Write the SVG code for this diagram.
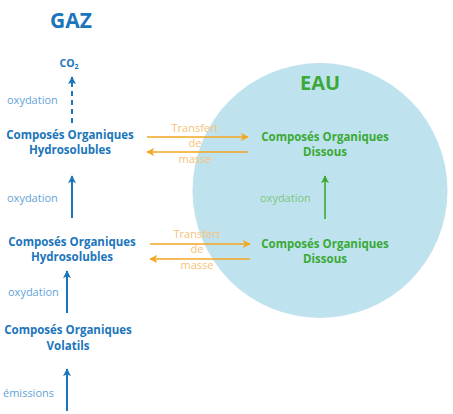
<svg xmlns="http://www.w3.org/2000/svg" width="453" height="414" viewBox="0 0 453 414">
<defs>
<marker id="ab" viewBox="0 0 10 10" refX="9" refY="5" markerWidth="8" markerHeight="8" orient="auto" markerUnits="userSpaceOnUse"><path d="M0,0 L10,5 L0,10 L2.5,5 z" fill="#1b75bc"/></marker>
<marker id="ag" viewBox="0 0 10 10" refX="9" refY="5" markerWidth="8" markerHeight="8" orient="auto" markerUnits="userSpaceOnUse"><path d="M0,0 L10,5 L0,10 L2.5,5 z" fill="#3aa935"/></marker>
<marker id="ao" viewBox="0 0 10 10" refX="9" refY="5" markerWidth="8" markerHeight="8" orient="auto" markerUnits="userSpaceOnUse"><path d="M0,0 L10,5 L0,10 L2.5,5 z" fill="#f5a623"/></marker>
<style>
text{font-family:"Open Sans","Liberation Sans",sans-serif;}
.nb{font-weight:bold;font-size:11.5px;fill:#1b75bc;text-anchor:middle;}
.ng{font-weight:bold;font-size:11.5px;fill:#3aa935;text-anchor:middle;}
.lb{font-size:11px;fill:#5fa3d8;}
.lg{font-size:11px;fill:#7cc57a;}
.lo{font-size:11px;fill:#f7c275;text-anchor:middle;}
.cb{stroke:#1b75bc;stroke-width:2;fill:none;}
.cg{stroke:#3aa935;stroke-width:1.6;fill:none;}
.co{stroke:#f5a623;stroke-width:1.5;fill:none;}
</style>
</defs>
<rect width="453" height="414" fill="#fff"/>
<circle id="eau-zone" cx="320" cy="190.5" r="127.5" fill="#bfe3ee"/>
<text x="71" y="28" style="font-weight:bold;font-size:21px;fill:#1b75bc;text-anchor:middle">GAZ</text>
<text x="320" y="90" style="font-weight:bold;font-size:20px;fill:#3aa935;text-anchor:middle">EAU</text>
<g id="co2"><text class="nb" x="69" y="67" style="font-size:10.5px">CO<tspan font-size="7" dy="2">2</tspan></text></g>
<g id="cohs1"><text class="nb" x="70" y="139">Composés Organiques</text><text class="nb" x="70" y="154">Hydrosolubles</text></g>
<g id="cohs2"><text class="nb" x="72" y="246">Composés Organiques</text><text class="nb" x="72" y="261">Hydrosolubles</text></g>
<g id="cov"><text class="nb" x="68" y="334">Composés Organiques</text><text class="nb" x="68" y="350">Volatils</text></g>
<g id="cod1"><text class="ng" x="325" y="141">Composés Organiques</text><text class="ng" x="325" y="156">Dissous</text></g>
<g id="cod2"><text class="ng" x="325" y="248">Composés Organiques</text><text class="ng" x="325" y="263">Dissous</text></g>
<g id="connectors">
<line class="cb" x1="72" y1="123" x2="72" y2="77" stroke-dasharray="5,4" marker-end="url(#ab)"/>
<text class="lb" x="7" y="104">oxydation</text>
<line class="cb" x1="72" y1="218" x2="72" y2="176" marker-end="url(#ab)"/>
<text class="lb" x="7" y="202">oxydation</text>
<line class="cb" x1="67" y1="313" x2="67" y2="271" marker-end="url(#ab)"/>
<text class="lb" x="8" y="296">oxydation</text>
<line class="cb" x1="67" y1="411" x2="67" y2="369" marker-end="url(#ab)"/>
<text class="lb" x="3" y="397">émissions</text>
<line class="cg" x1="325" y1="219" x2="325" y2="176" marker-end="url(#ag)"/>
<text class="lg" x="260" y="202">oxydation</text>
<line class="co" x1="147" y1="137" x2="248" y2="137" marker-end="url(#ao)"/>
<line class="co" x1="248" y1="152" x2="147" y2="152" marker-end="url(#ao)"/>
<text class="lo" x="195" y="132">Transfert</text><text class="lo" x="195" y="147">de</text><text class="lo" x="195" y="163">masse</text>
<line class="co" x1="150" y1="244" x2="250" y2="244" marker-end="url(#ao)"/>
<line class="co" x1="250" y1="259" x2="150" y2="259" marker-end="url(#ao)"/>
<text class="lo" x="197" y="238">Transfert</text><text class="lo" x="197" y="253">de</text><text class="lo" x="197" y="269">masse</text>
</g>
</svg>
